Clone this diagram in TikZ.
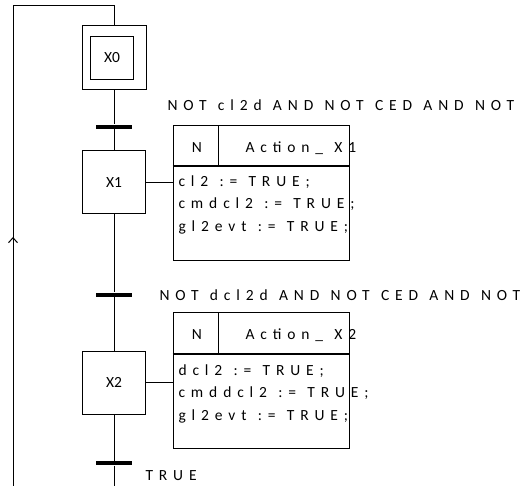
\documentclass[tikz,border=0pt]{standalone}
\usepackage{fontspec}
\setmainfont{Carlito}
\newfontfamily\spacedfont[LetterSpace=38, WordSpace=1.2]{Carlito}
\usetikzlibrary{arrows.meta,decorations.markings}

\begin{document}
\begin{tikzpicture}[x=1pt, y=-1pt, line width=1pt,
    stepbox/.style={draw, minimum width=63pt, minimum height=63pt, inner sep=0pt, font=\fontsize{15.5}{18}\selectfont},
    transbar/.style={fill=black, minimum width=36pt, minimum height=4pt, inner sep=0pt},
    actionbox/.style={draw, minimum width=176pt, minimum height=135pt, inner sep=0pt},
    lbl/.style={anchor=west, inner sep=0pt, font=\spacedfont\fontsize{15.5}{22.5}\selectfont, align=left}]
    \useasboundingbox (0,0) rectangle (522,486);
    \clip (0,0) rectangle (522,486);

    % steps
    \node[stepbox, minimum width=64pt, minimum height=64pt] (X0o) at (114,58) {};
    \node[stepbox, minimum width=43pt, minimum height=43pt] (X0) at (112,58) {X0};
    \node[stepbox] (X1) at (114,182.5) {X1};
    \node[stepbox] (X2) at (114,382.5) {X2};

    % transitions
    \node[transbar] (t1) at (114,127) {};
    \node[transbar] (t2) at (114,295) {};
    \node[transbar] (t3) at (114,463) {};
    \node[lbl] (c1) at (167,105) {NOT cl2d AND NOT CED AND NOT};
    \node[lbl] (c2) at (159,295) {NOT dcl2d AND NOT CED AND NOT};
    \node[lbl] (c3) at (145,476) {TRUE};

    % action blocks
    \node[actionbox] (a1) at (261,193.5) {};
    \draw[line width=2pt] ([yshift=-41pt]a1.north west) -- ([yshift=-41pt]a1.north east);
    \draw ([xshift=46pt]a1.north west) -- ([xshift=46pt,yshift=-41pt]a1.north west);
    \node[lbl, anchor=center] (n1) at (197,148) {N};
    \node[lbl] (h1) at (245,148) {Action\_ X1};
    \node[lbl] (b1) at (178,204.5) {cl2 := TRUE;\\cmdcl2 := TRUE;\\gl2evt := TRUE;};

    \node[actionbox] (a2) at (261,380.5) {};
    \draw[line width=2pt] ([yshift=-41pt]a2.north west) -- ([yshift=-41pt]a2.north east);
    \draw ([xshift=46pt]a2.north west) -- ([xshift=46pt,yshift=-41pt]a2.north west);
    \node[lbl, anchor=center] (n2) at (197,335) {N};
    \node[lbl] (h2) at (245,335) {Action\_ X2};
    \node[lbl] (b2) at (178,393.5) {dcl2 := TRUE;\\cmddcl2 := TRUE;\\gl2evt := TRUE;};

    % links
    \coordinate (bot) at (114,490);
    \coordinate (top) at (114,6);
    \coordinate (lt) at (13,6);
    \coordinate (lb) at (13,490);
    \draw (X0o) -- (t1) -- (X1) -- (t2) -- (X2) -- (t3) -- (bot);
    \draw (X1.east) -- (X1.east -| a1.west);
    \draw (X2.east) -- (X2.east -| a2.west);
    \draw[postaction={decorate}, decoration={markings, mark=at position 253pt with {\arrow{Straight Barb[length=5pt,width=9pt]}}}]
        (lb) -- (lt) -- (top) -- (X0o.north);
\end{tikzpicture}
\end{document}
